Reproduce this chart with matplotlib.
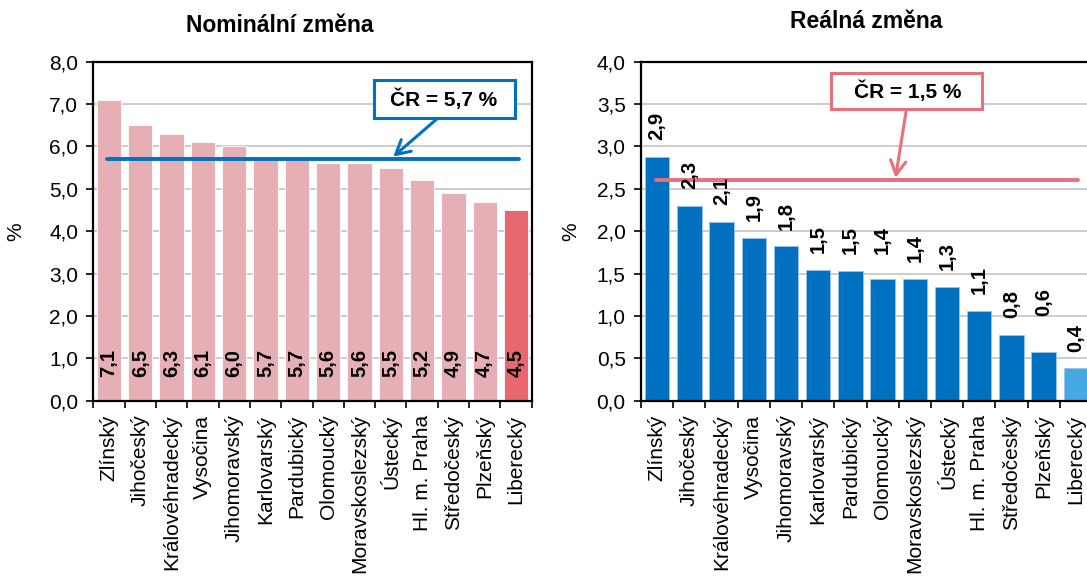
import matplotlib
matplotlib.use("Agg")
import matplotlib.pyplot as plt
from matplotlib.patches import Rectangle
from matplotlib.ticker import FuncFormatter, MultipleLocator, FixedLocator
import numpy as np

plt.rcParams['font.family'] = ['Liberation Sans', 'DejaVu Sans']

# ---------------- data ----------------
regions = ["Zlínský", "Jihočeský", "Královéhradecký", "Vysočina", "Jihomoravský",
           "Karlovarský", "Pardubický", "Olomoucký", "Moravskoslezský", "Ústecký",
           "Hl. m. Praha", "Středočeský", "Plzeňský", "Liberecký"]
nominal = [7.1, 6.5, 6.3, 6.1, 6.0, 5.7, 5.7, 5.6, 5.6, 5.5, 5.2, 4.9, 4.7, 4.5]
real = [2.88, 2.30, 2.11, 1.92, 1.82, 1.54, 1.53, 1.44, 1.44, 1.34, 1.06, 0.77, 0.58, 0.38]
nominal_ref_line = 5.7
real_ref_line = 2.6
nominal_ref_text = "ČR = 5,7 %"
real_ref_text = "ČR = 1,5 %"
title_nominal = "Nominální změna"
title_real = "Reálná změna"
highlight = "Liberecký"
# extra vertical nudge of individual value labels in the right chart (data units)
real_label_nudge = [0, 0, 0, 0, 0, 0, 0, 0.09, 0, 0, 0, 0, 0.22, 0]

# ---------------- style ----------------
PINK = "#E6AFB3"
RED = "#E8676F"
BLUE = "#0070C0"
LBLUE = "#47A9E3"
LINE_RED = "#E8707A"
GRID = "#C3C3C3"
TICK_FS = 15
LABEL_FS = 14.5
BOX_FS = 15
TITLE_FS = 16.5

W, H = 1087, 576
fig = plt.figure(figsize=(W / 100, H / 100), dpi=100)

def px_axes(left, top, right, bottom):
    return fig.add_axes([left / W, 1 - bottom / H, (right - left) / W, (bottom - top) / H])

ax1 = px_axes(93.3, 61.7, 531.7, 400.7)
ax2 = px_axes(641, 61.7, 1092, 400.7)

comma = FuncFormatter(lambda v, p: f"{v:.1f}".replace(".", ","))
x = np.arange(len(regions))

def style_axes(ax, ymax, step):
    ax.set_xlim(-0.5, len(regions) - 0.5)
    ax.set_ylim(0, ymax)
    ax.yaxis.set_major_locator(MultipleLocator(step))
    ax.yaxis.set_major_formatter(comma)
    ax.grid(axis='y', color=GRID, lw=1.2, zorder=0)
    ax.set_axisbelow(True)
    for s in ax.spines.values():
        s.set_linewidth(1.6)
        s.set_color('black')
    ax.set_xticks(x)
    ax.set_xticklabels(regions, rotation=90, fontsize=TICK_FS)
    ax.xaxis.set_minor_locator(FixedLocator(np.arange(-0.5, len(regions), 1.0)))
    ax.tick_params(axis='x', which='major', length=0, pad=10)
    ax.tick_params(axis='x', which='minor', length=5, width=1.2, direction='out')
    ax.tick_params(axis='y', which='major', length=5, width=1.2, direction='out',
                   labelsize=TICK_FS, pad=6)
    ax.set_ylabel("%", fontsize=TICK_FS)

# ---------------- left: nominal ----------------
style_axes(ax1, 8.0, 1.0)
cols1 = [RED if r == highlight else PINK for r in regions]
ax1.bar(x, nominal, width=0.78, color=cols1, edgecolor='white', linewidth=0.6, zorder=2)
for xi, v in zip(x, nominal):
    ax1.text(xi, 0.55, f"{v:.1f}".replace(".", ","), rotation=90, ha='center', va='bottom',
             fontsize=LABEL_FS, fontweight='bold', zorder=5)
ax1.plot([-0.06, 13.08], [nominal_ref_line, nominal_ref_line], color=BLUE, lw=2.8,
         solid_capstyle='round', zorder=4)
ax1.add_patch(Rectangle((8.45, 6.68), 12.97 - 8.45, 7.57 - 6.68, facecolor='white',
                        edgecolor=BLUE, lw=2.2, zorder=6, clip_on=False))
ax1.text(10.70, 7.12, nominal_ref_text, ha='center', va='center', fontsize=BOX_FS,
         fontweight='bold', zorder=7)
ax1.annotate('', xy=(9.08, 5.76), xytext=(10.52, 6.68),
             arrowprops=dict(arrowstyle='->,head_length=1.0,head_width=0.55', color=BLUE,
                             lw=2.2, shrinkA=0, shrinkB=0), zorder=5)
ax1.yaxis.set_label_coords(-0.156, 0.5)

# ---------------- right: real ----------------
style_axes(ax2, 4.0, 0.5)
ax2.spines['right'].set_visible(False)
cols2 = [LBLUE if r == highlight else BLUE for r in regions]
ax2.bar(x, real, width=0.76, color=cols2, edgecolor='#9DC3E6', linewidth=0.6, zorder=2)
for xi, v, nd in zip(x, real, real_label_nudge):
    ax2.text(xi, v + 0.2 + nd, f"{v:.1f}".replace(".", ","), rotation=90, ha='center',
             va='bottom', fontsize=LABEL_FS, fontweight='bold', zorder=6, clip_on=False)
ax2.plot([-0.04, 13.06], [real_ref_line, real_ref_line], color=LINE_RED, lw=2.8,
         solid_capstyle='round', zorder=4)
ax2.add_patch(Rectangle((5.40, 3.44), 10.10 - 5.40, 3.87 - 3.44, facecolor='white',
                        edgecolor=LINE_RED, lw=2.2, zorder=6, clip_on=False))
ax2.text(7.79, 3.65, real_ref_text, ha='center', va='center', fontsize=BOX_FS,
         fontweight='bold', zorder=7)
ax2.annotate('', xy=(7.40, 2.63), xytext=(7.74, 3.44),
             arrowprops=dict(arrowstyle='->,head_length=1.0,head_width=0.55', color=LINE_RED,
                             lw=2.2, shrinkA=0, shrinkB=0), zorder=5)
ax2.yaxis.set_label_coords(-0.135, 0.5)

# ---------------- titles ----------------
fig.text(280 / W, 1 - 25.5 / H, title_nominal, ha='center', va='center', fontsize=TITLE_FS,
         fontweight='bold')
fig.text(866 / W, 1 - 21.5 / H, title_real, ha='center', va='center', fontsize=TITLE_FS,
         fontweight='bold')

fig.savefig("out.png", dpi=100)
